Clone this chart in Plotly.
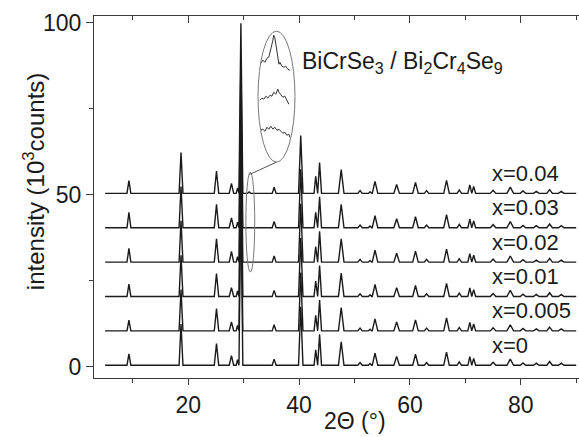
import plotly.graph_objects as go

# XRD patterns, one per Cr content; stacked with a vertical offset of 10
samples = ["x=0", "x=0.005", "x=0.01", "x=0.02", "x=0.03", "x=0.04"]
offsets = [0, 10, 20, 30, 40, 50]
baseline = 0.4
scan_start = 5.0
scan_end = 90.0

# reflections: 2theta (deg), half width at the foot (deg)
peak_pos = [9.3, 18.7, 25.1, 27.8, 28.9, 29.5, 31.0, 35.5, 40.3, 43.0, 43.7,
            47.6, 51.0, 52.8, 53.7, 57.6, 61.0, 63.0, 66.6, 68.9, 70.8, 71.5,
            75.0, 78.1, 80.4, 82.8, 85.2, 87.3]
peak_hw = [0.35, 0.35, 0.4, 0.4, 0.25, 0.35, 0.3, 0.35, 0.4, 0.3, 0.35,
           0.5, 0.4, 0.3, 0.5, 0.5, 0.5, 0.4, 0.5, 0.4, 0.35, 0.35,
           0.5, 0.6, 0.5, 0.5, 0.5, 0.5]

# peak heights above the baseline (10^3 counts), same order as peak_pos
heights_x0 = [3.3, 12.0, 6.3, 2.8, 1.6, 49.5, 0.0, 1.8, 17.0, 4.5, 9.0,
              6.8, 0.8, 0.5, 3.5, 2.6, 3.2, 0.8, 3.8, 1.0, 2.5, 2.0,
              0.9, 1.8, 0.7, 0.6, 1.1, 0.6]
heights_x0005 = [3.1, 12.0, 6.5, 2.6, 1.6, 49.5, 0.0, 1.8, 17.0, 4.5, 9.0,
                 6.8, 0.8, 0.5, 3.5, 2.6, 3.2, 0.8, 3.8, 1.0, 2.5, 2.0,
                 0.9, 1.8, 0.7, 0.6, 1.1, 0.6]
heights_x001 = [3.6, 12.0, 6.7, 2.6, 1.6, 49.5, 0.0, 1.8, 17.0, 4.5, 9.0,
                6.8, 0.8, 0.5, 3.5, 2.6, 3.2, 0.8, 3.8, 1.0, 2.5, 2.0,
                0.9, 1.8, 0.7, 0.6, 1.1, 0.6]
heights_x002 = [4.0, 12.0, 6.8, 3.1, 1.6, 49.5, 0.0, 1.8, 17.0, 4.5, 9.0,
                6.8, 0.8, 0.5, 3.5, 2.6, 3.2, 0.8, 3.8, 1.0, 2.5, 2.0,
                0.9, 1.8, 0.7, 0.6, 1.1, 0.6]
heights_x003 = [4.5, 12.0, 6.8, 2.9, 1.6, 49.5, 0.0, 1.8, 17.0, 4.5, 9.0,
                6.8, 0.8, 0.5, 3.5, 2.6, 3.2, 0.8, 3.8, 1.0, 2.5, 2.0,
                0.9, 1.8, 0.7, 0.6, 1.1, 0.6]
heights_x004 = [3.7, 11.9, 6.5, 2.9, 1.6, 49.5, 0.4, 1.8, 16.8, 5.0, 9.0,
                6.9, 0.8, 0.5, 3.5, 2.6, 3.2, 0.8, 3.8, 1.0, 2.5, 2.0,
                0.9, 1.8, 0.7, 0.6, 1.1, 0.6]
heights = [heights_x0, heights_x0005, heights_x001, heights_x002, heights_x003, heights_x004]

# magnified region around 31 deg (inset), top to bottom
inset_tt_a = [30.16, 30.27, 30.38, 30.49, 30.59, 30.70, 30.76, 30.81, 30.86, 30.92,
              30.97, 31.03, 31.08, 31.14, 31.19, 31.30, 31.41, 31.51, 31.62, 31.73]
inset_int_a = [7.56, 7.79, 7.63, 7.94, 8.02, 8.55, 9.01, 9.31, 9.69, 9.47,
               8.93, 8.40, 7.94, 7.48, 7.63, 7.33, 7.25, 7.33, 7.10, 7.02]
inset_tt_b = [30.11, 30.22, 30.32, 30.43, 30.54, 30.65, 30.76, 30.86, 30.97, 31.08,
              31.14, 31.24, 31.35, 31.46, 31.57, 31.68]
inset_int_b = [4.73, 4.89, 4.81, 5.04, 4.89, 5.11, 5.04, 5.34, 5.19, 5.57,
               5.34, 5.19, 4.96, 5.04, 4.66, 4.43]
inset_tt_c = [30.16, 30.27, 30.38, 30.49, 30.59, 30.70, 30.81, 30.92, 31.03, 31.14,
              31.24, 31.35, 31.46, 31.57, 31.68, 31.73]
inset_int_c = [2.44, 2.52, 2.37, 2.67, 2.52, 2.75, 2.52, 2.67, 2.44, 2.52,
               2.37, 2.21, 2.29, 2.06, 2.14, 1.91]

FONT = "Liberation Sans, Arial, sans-serif"
INK = "#1a1a1a"
AXIS = "#3a3a3a"


def pattern(h, offset):
    xs, ys = [scan_start], [offset + baseline]
    for p, w, hh in zip(peak_pos, peak_hw, h):
        xs += [p - w, p, p + w]
        ys += [offset + baseline, offset + baseline + hh, offset + baseline]
    xs.append(scan_end)
    ys.append(offset + baseline)
    return xs, ys


fig = go.Figure()

for name, h, off in zip(samples, heights, offsets):
    xs, ys = pattern(h, off)
    fig.add_trace(go.Scatter(x=xs, y=ys, mode="lines", name=name,
                             line=dict(color=INK, width=1.4), showlegend=False))

for tt, it in [(inset_tt_a, inset_int_a), (inset_tt_b, inset_int_b), (inset_tt_c, inset_int_c)]:
    fig.add_trace(go.Scatter(x=tt, y=it, mode="lines", xaxis="x2", yaxis="y2",
                             line=dict(color="#333333", width=1), showlegend=False))

# dummy trace to carry the inward top axis
fig.add_trace(go.Scatter(x=[scan_start], y=[0], xaxis="x3", mode="markers",
                         marker=dict(opacity=0), showlegend=False, hoverinfo="skip"))

x_range = [3.0, 90.5]
y_range = [-3.3, 102.0]

fig.update_layout(
    width=579, height=437,
    margin=dict(l=94, r=0, t=16, b=59),
    paper_bgcolor="white", plot_bgcolor="white",
    font=dict(family=FONT, size=23, color=INK),
    xaxis=dict(range=x_range, tick0=0, dtick=20, ticks="outside", ticklen=6, tickwidth=1.3,
               tickcolor=AXIS, showline=True, linecolor=AXIS, linewidth=1.3,
               showgrid=False, zeroline=False, tickfont=dict(size=23),
               minor=dict(dtick=10, ticks="outside", ticklen=4, tickcolor=AXIS, tickwidth=1.2)),
    xaxis3=dict(range=x_range, overlaying="x", side="top", tick0=0, dtick=20, ticks="inside",
                ticklen=7, tickwidth=1.3, tickcolor=AXIS, showline=True, linecolor=AXIS,
                linewidth=1.3, showticklabels=False, showgrid=False, zeroline=False,
                minor=dict(dtick=10, ticks="inside", ticklen=4, tickcolor=AXIS, tickwidth=1.2)),
    yaxis=dict(range=y_range, tick0=0, dtick=50, ticks="outside", ticklen=7, tickwidth=1.3,
               tickcolor=AXIS, showline=True, linecolor=AXIS, linewidth=1.3,
               showgrid=False, zeroline=False, tickfont=dict(size=23),
               minor=dict(dtick=25, ticks="outside", ticklen=4, tickcolor=AXIS, tickwidth=1.2)),
    xaxis2=dict(domain=[0.338, 0.414], range=[30.0, 32.0], visible=False),
    yaxis2=dict(domain=[0.596, 0.958], range=[0, 10], visible=False, anchor="x2"),
)

# magnifier: big ellipse, small ellipse on the patterns and the connector
fig.add_shape(type="circle", xref="x", yref="y", x0=32.59, x1=39.26, y0=59.5, y1=97.6,
              line=dict(color="#777777", width=1))
fig.add_shape(type="circle", xref="x", yref="y", x0=30.4, x1=32.0, y0=27.5, y1=56.6,
              line=dict(color="#777777", width=1))
fig.add_shape(type="line", xref="x", yref="y", x0=31.05, y0=55.9, x1=35.92, y1=59.5,
              line=dict(color="#555555", width=1))

for name, off in zip(samples, offsets):
    fig.add_annotation(x=74.5, y=off + 6.2, text=name, showarrow=False,
                       xanchor="left", yanchor="middle", font=dict(size=22))

fig.add_annotation(x=40.2, y=88.4, text="BiCrSe<sub>3</sub> / Bi<sub>2</sub>Cr<sub>4</sub>Se<sub>9</sub>",
                   showarrow=False, xanchor="left", yanchor="middle", font=dict(size=23))

fig.add_annotation(xref="paper", yref="paper", x=-0.1237, y=0.541, textangle=-90,
                   text="intensity (10<sup>3</sup>counts)", showarrow=False,
                   xanchor="center", yanchor="middle", font=dict(size=24))
fig.add_annotation(xref="paper", yref="paper", x=0.538, y=-0.119, text="2Θ (°)",
                   showarrow=False, xanchor="center", yanchor="middle", font=dict(size=23))

# the page's default body margin would push the 579x437 figure off the window
fig.write_html("out.html", config={"displayModeBar": False},
               post_script="document.body.style.margin='0';")
